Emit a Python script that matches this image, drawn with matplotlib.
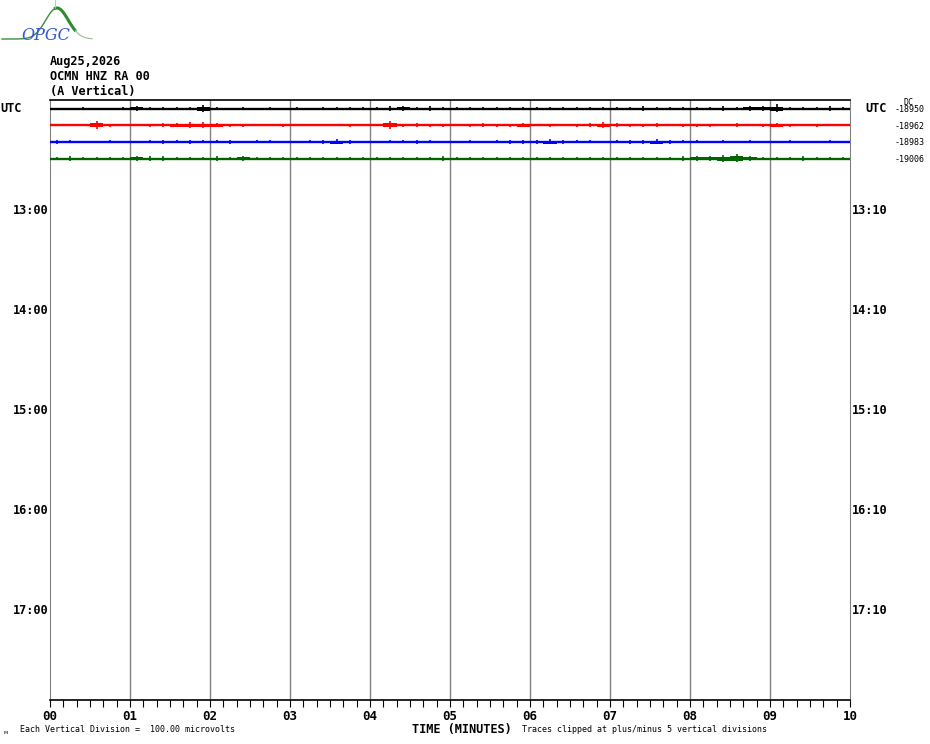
import matplotlib
matplotlib.use("Agg")
import matplotlib.pyplot as plt
import numpy as np
from matplotlib.ticker import MultipleLocator

header = ["Aug25,2026", "OCMN HNZ RA 00", "(A Vertical)"]
left_hours = ["UTC", "13:00", "14:00", "15:00", "16:00", "17:00"]
right_hours = ["UTC", "13:10", "14:10", "15:10", "16:10", "17:10"]
label_rows = [0, 6, 12, 18, 24, 30]
minute_labels = ["00", "01", "02", "03", "04", "05", "06", "07", "08", "09", "10"]
dc_values = [-18950, -18962, -18983, -19006]
trace_colors = ["black", "red", "blue", "#006400"]

# peak amplitude (microvolts) per 10-second bin, one row = 100 microvolts
amp_row0 = [6, 6, 8, 6, 6, 8, 18, 8, 10, 12, 8, 22, 8, 6, 8, 6, 8, 6,
            8, 6, 8, 10, 8, 12, 12, 14, 16, 12, 14, 10, 10, 12, 8, 12, 10, 8,
            8, 10, 8, 12, 10, 8, 10, 12, 14, 10, 12, 10, 10, 12, 14, 12, 16, 18,
            26, 12, 10, 12, 14, 8]
amp_row1 = [8, 8, 8, 24, 10, 8, 8, 10, 12, 16, 20, 18, 14, 10, 10, 8, 8, 10,
            8, 8, 8, 6, 10, 8, 8, 24, 10, 12, 10, 10, 8, 10, 12, 10, 10, 14,
            8, 10, 8, 10, 12, 18, 12, 10, 10, 12, 8, 10, 10, 10, 8, 12, 8, 10,
            14, 10, 8, 10, 8, 8]
amp_row2 = [12, 10, 8, 8, 10, 8, 8, 10, 12, 10, 12, 10, 10, 12, 8, 10, 10, 8,
            8, 10, 12, 18, 12, 8, 8, 10, 10, 12, 10, 8, 8, 10, 8, 10, 12, 14,
            12, 18, 14, 10, 10, 8, 10, 12, 14, 18, 12, 10, 10, 8, 10, 8, 10, 8,
            8, 10, 8, 8, 10, 8]
amp_row3 = [10, 14, 12, 10, 12, 10, 18, 14, 14, 12, 12, 10, 14, 12, 16, 12, 10, 8,
            10, 8, 10, 12, 10, 8, 8, 10, 12, 10, 12, 14, 12, 10, 8, 10, 12, 8,
            8, 10, 12, 10, 8, 10, 8, 10, 8, 10, 12, 14, 16, 18, 22, 28, 18, 12,
            10, 10, 14, 10, 8, 10]
amplitudes = [amp_row0, amp_row1, amp_row2, amp_row3]

uv_per_div = 100.0
n_rows = 36

fig = plt.figure(figsize=(9.3, 7.44), dpi=100)
W, H = 930.0, 744.0
ax = fig.add_axes([50 / W, 44 / H, 800 / W, 600 / H])
ax.set_xlim(0, 10)
ax.set_ylim(n_rows - 0.52, -0.52)

# minute grid
for m in range(1, 10):
    ax.axvline(m, color="#808080", lw=1.0, zorder=1)

for sp in ["left", "right"]:
    ax.spines[sp].set_color("#808080")
for sp in ["top", "bottom"]:
    ax.spines[sp].set_color("black")
    ax.spines[sp].set_linewidth(1.2)

# traces: a band for the 10 s envelope plus the peak spike of each bin
for row, (amp, col) in enumerate(zip(amplitudes, trace_colors)):
    a = np.array(amp) / uv_per_div
    edges = np.arange(len(a) + 1) / 6.0
    band = np.append(a, a[-1]) * 0.5
    ax.fill_between(edges, row - band, row + band, step="post", color=col,
                    lw=0, zorder=3)
    ax.hlines(row, 0, 10, color=col, lw=1.7, zorder=3)
    xs = (np.arange(len(a)) + 0.5) / 6.0
    ax.vlines(xs, row - a, row + a * 0.8, color=col, lw=1.2, zorder=3)

ax.set_yticks([])
ax.xaxis.set_minor_locator(MultipleLocator(1 / 6))
ax.tick_params(axis="x", which="both", direction="out", length=5, width=0.8,
               colors="black", pad=2)
ax.set_xticks(range(11))
ax.set_xticklabels(minute_labels, fontfamily="DejaVu Sans Mono",
                   fontweight="bold", fontsize=9)

mono = dict(fontfamily="DejaVu Sans Mono", fontweight="bold", fontsize=8.6)

# time labels left and right
for lab, r in zip(left_hours, label_rows):
    if lab == "UTC":
        ax.text(-50 / 80, r, lab, ha="left", va="center", **mono)
    else:
        ax.text(-2 / 80, r + 0.1, lab, ha="right", va="center", **mono)
for lab, r in zip(right_hours, label_rows):
    if lab == "UTC":
        ax.text(10 + 15 / 80, r, lab, ha="left", va="center", **mono)
    else:
        ax.text(10 + 2 / 80, r + 0.1, lab, ha="left", va="center", **mono)

# DC offsets
small = dict(fontfamily="DejaVu Sans Mono", fontsize=6)
for r, v in enumerate(dc_values):
    ax.text(10 + 45 / 80, r + 0.05, str(v), ha="left", va="center", **small)
ax.text(10 + 53 / 80, -0.4, "DC", ha="left", va="center", **small)

# header
for i, line in enumerate(header):
    fig.text(50 / W, 1 - (61 + 15 * i) / H, line, ha="left", va="center", **mono)

# footer
fig.text(462 / W, 1 - 729 / H, "TIME (MINUTES)", ha="center", va="center", **mono)
fig.text(20 / W, 1 - 730 / H, "Each Vertical Division =  100.00 microvolts",
         ha="left", va="center", **small)
fig.text(522 / W, 1 - 730 / H, "Traces clipped at plus/minus 5 vertical divisions",
         ha="left", va="center", **small)
fig.text(3 / W, 1 - 732 / H, "\u1d0d", fontsize=4, ha="left", va="center")

# logo
lax = fig.add_axes([0, 1 - 45 / H, 95 / W, 45 / H])
lax.set_xlim(0, 95)
lax.set_ylim(45, 0)
lax.axis("off")
gx = np.linspace(2, 92, 200)
gy = 39 - 31 * np.exp(-((gx - 57) / 16) ** 2)
lax.plot(gx[gx < 55], gy[gx < 55], color="#3a8f3a", lw=1.0)
lax.plot(gx[(gx >= 55) & (gx < 75)], gy[(gx >= 55) & (gx < 75)],
         color="#2e8b2e", lw=2.2)
lax.plot(gx[gx >= 75], gy[gx >= 75], color="#8fc08f", lw=0.8)
lax.plot([55, 55], [0, 8], color="#9ccf9c", lw=0.6)
lax.text(46, 36, "OPGC", color="#3355cc", fontstyle="italic", fontsize=11.5,
         fontfamily="DejaVu Serif", ha="center", va="center")

fig.savefig("out.png", dpi=100)
